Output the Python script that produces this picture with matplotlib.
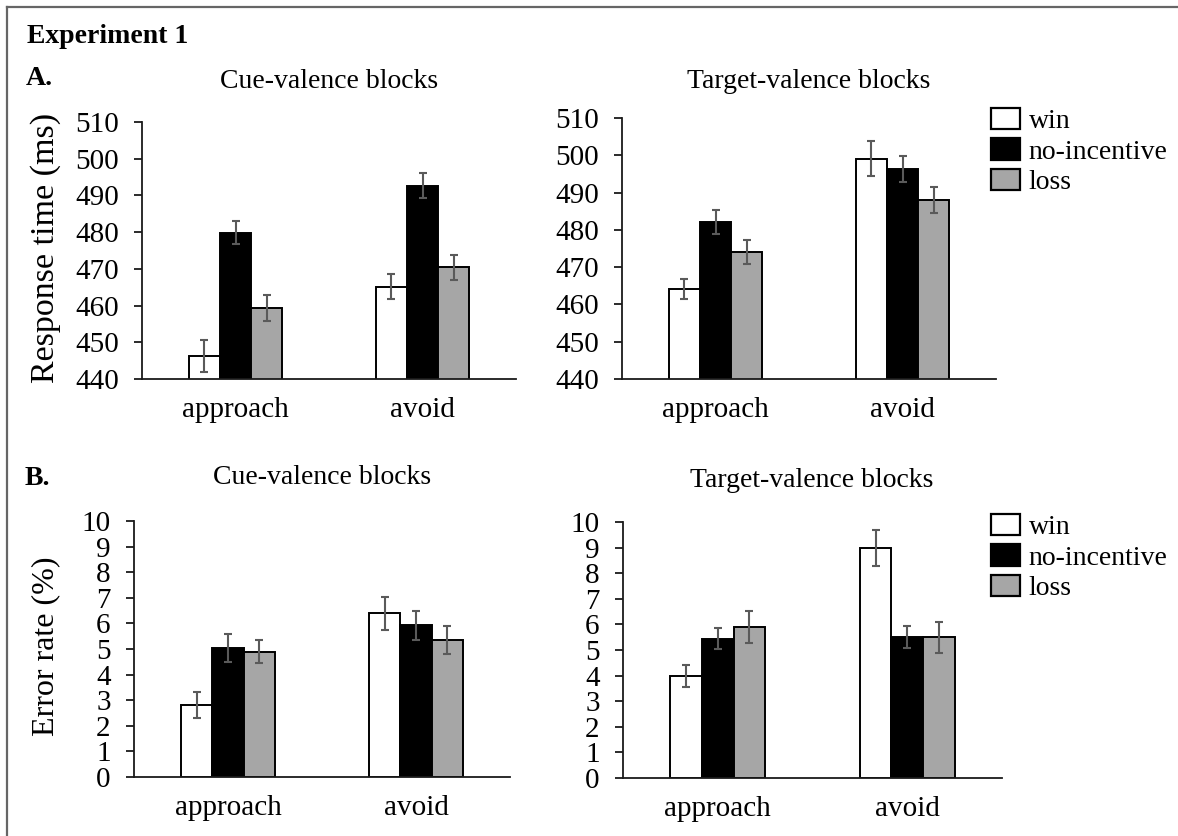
import matplotlib
matplotlib.use('Agg')
import matplotlib.pyplot as plt
import numpy as np
from matplotlib.lines import Line2D
from matplotlib.patches import Patch

plt.rcParams['font.family'] = ['Liberation Serif', 'DejaVu Serif']

# ---- data ----
actions = ['approach', 'avoid']
conditions = ['win', 'no-incentive', 'loss']
colors = ['white', 'black', '#a6a6a6']

# response times (ms), rows = actions, cols = conditions
cue_rt = [[446.3, 479.9, 459.4],
          [465.1, 492.7, 470.4]]
cue_rt_se = [[4.4, 3.1, 3.6],
             [3.4, 3.3, 3.5]]
target_rt = [[464.2, 482.0, 474.1],
             [499.1, 496.3, 488.0]]
target_rt_se = [[2.7, 3.2, 3.3],
                [4.6, 3.4, 3.5]]

# error rates (%)
cue_er = [[2.81, 5.04, 4.90],
          [6.39, 5.92, 5.34]]
cue_er_se = [[0.51, 0.53, 0.45],
             [0.66, 0.56, 0.55]]
target_er = [[3.97, 5.44, 5.90],
             [8.98, 5.50, 5.50]]
target_er_se = [[0.43, 0.42, 0.63],
                [0.69, 0.44, 0.60]]

rt_ticks = [440, 450, 460, 470, 480, 490, 500, 510]
er_ticks = [0, 1, 2, 3, 4, 5, 6, 7, 8, 9, 10]

W, H = 1178, 836


def px_axes(fig, x0, x1, y0, y1):
    """Axes from pixel box (top-left origin)."""
    return fig.add_axes([x0 / W, 1 - y1 / H, (x1 - x0) / W, (y1 - y0) / H])


def draw_panel(ax, vals, errs, ticks):
    vals = np.array(vals)
    errs = np.array(errs)
    x = np.arange(len(actions))
    bw = 1 / 6
    for j, cond in enumerate(conditions):
        ax.bar(x + (j - 1) * bw, vals[:, j], width=bw, color=colors[j],
               edgecolor='black', linewidth=1.4, label=cond, zorder=2)
        ax.errorbar(x + (j - 1) * bw, vals[:, j], yerr=errs[:, j], fmt='none',
                    ecolor='#5a5a5a', elinewidth=1.5, capsize=3.2,
                    capthick=1.5, zorder=3)
    ax.set_xlim(-0.5, 1.5)
    ax.set_ylim(ticks[0], ticks[-1])
    ax.set_yticks(ticks)
    ax.set_xticks(x)
    ax.set_xticklabels(actions)
    for s in ['top', 'right']:
        ax.spines[s].set_visible(False)
    for s in ['left', 'bottom']:
        ax.spines[s].set_linewidth(1.3)
        ax.spines[s].set_color('#1a1a1a')
    ax.tick_params(axis='y', direction='out', length=5.8, width=1.3,
                   color='#1a1a1a', pad=11, labelsize=21)
    ax.tick_params(axis='x', length=0, pad=13, labelsize=21)


fig = plt.figure(figsize=(W / 100, H / 100), dpi=100)

ax1 = px_axes(fig, 142, 516, 122, 379)
ax2 = px_axes(fig, 622, 996, 118, 379)
ax3 = px_axes(fig, 134, 510, 521, 777)
ax4 = px_axes(fig, 623, 1002, 522, 778)

draw_panel(ax1, cue_rt, cue_rt_se, rt_ticks)
draw_panel(ax2, target_rt, target_rt_se, rt_ticks)
draw_panel(ax3, cue_er, cue_er_se, er_ticks)
draw_panel(ax4, target_er, target_er_se, er_ticks)

ax1.set_ylabel('Response time (ms)', fontsize=24.5)
ax3.set_ylabel('Error rate (%)', fontsize=23)
ax1.yaxis.set_label_coords(61 / W, 1 - 248 / H, transform=fig.transFigure)
ax3.yaxis.set_label_coords(60 / W, 1 - 646 / H, transform=fig.transFigure)

# legends
handles = [Patch(facecolor=c, edgecolor='black', linewidth=1.6) for c in colors]
for ax, ytop in ((ax2, 108), (ax4, 514)):
    ax.legend(handles, conditions, loc='upper left',
              bbox_to_anchor=(991 / W, 1 - ytop / H),
              bbox_transform=fig.transFigure, frameon=False, fontsize=20,
              handlelength=1.05, handleheight=0.8, handletextpad=0.3,
              labelspacing=0.15, borderpad=0, borderaxespad=0)


# texts
def ftext(x, y, s, **kw):
    fig.text(x / W, 1 - y / H, s, va='baseline', fontsize=20, **kw)


ftext(27, 43, 'Experiment 1', fontweight='bold')
ftext(26, 85, 'A.', fontweight='bold')
ftext(25, 485, 'B.', fontweight='bold')
ftext(329, 88, 'Cue-valence blocks', ha='center')
ftext(809, 88, 'Target-valence blocks', ha='center')
ftext(322, 484, 'Cue-valence blocks', ha='center')
ftext(812, 487, 'Target-valence blocks', ha='center')

# frame (left and top edges)
fig.add_artist(Line2D([7 / W, 7 / W], [0, 1 - 7 / H], color='#666666',
                      linewidth=1.6, transform=fig.transFigure))
fig.add_artist(Line2D([7 / W, 1], [1 - 7 / H, 1 - 7 / H], color='#666666',
                      linewidth=1.6, transform=fig.transFigure))

fig.savefig('out.png', dpi=100)
